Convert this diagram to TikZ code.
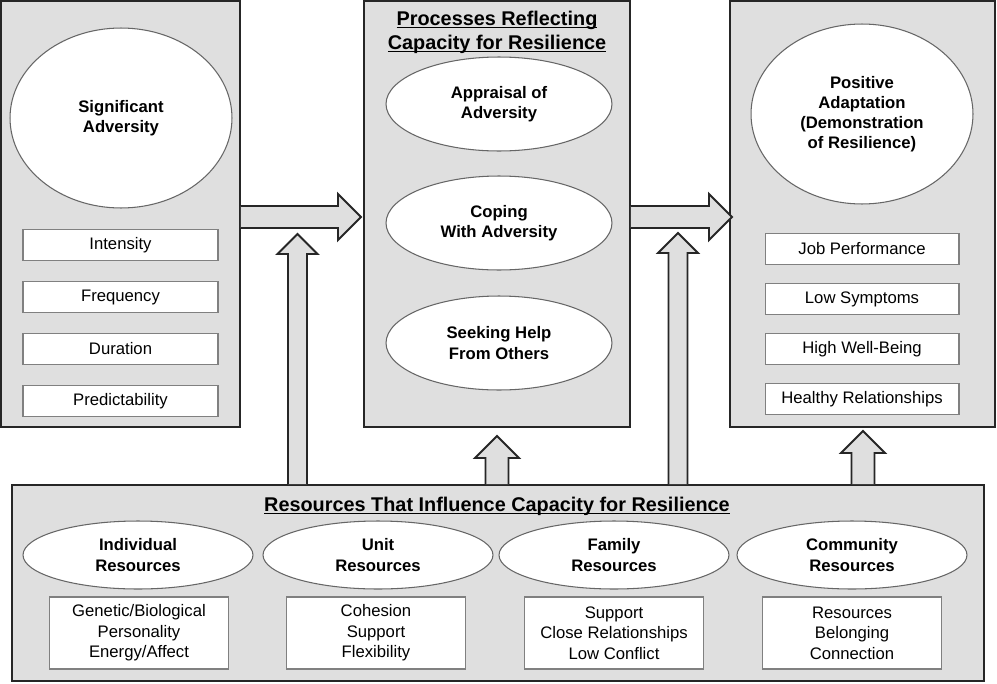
\documentclass[tikz,border=0pt]{standalone}
\usepackage{fontspec}
\setmainfont{Liberation Sans}
\usetikzlibrary{shapes.geometric,calc}

% underline close to the baseline
\newcommand\ulbase[1]{\underline{\smash{#1}}}
% block arrows
\newcommand\rightblock[2]{%
  \draw[fatarrow] ($(#1)+(0,-11)$) -- ($(#2)+(-23,-11)$) -- ($(#2)+(-23,-23)$) -- (#2)
    -- ($(#2)+(-23,23)$) -- ($(#2)+(-23,11)$) -- ($(#1)+(0,11)$);}
\newcommand\upblock[4]{%
  \draw[fatarrow] ($(#1)+(-#3,0)$) -- ($(#2)+(-#3,#4)$) -- ($(#2)+(-#4,#4)$) -- (#2)
    -- ($(#2)+(#4,#4)$) -- ($(#2)+(#3,#4)$) -- ($(#1)+(#3,0)$);}

\begin{document}
\begin{tikzpicture}[x=0.02cm,y=-0.02cm,
  panel/.style={draw=black!85,line width=1.1pt,fill=gray!25,inner sep=0pt},
  oval/.style={ellipse,draw=black!60,line width=0.6pt,fill=white,inner sep=0pt,
    align=center,font=\fontsize{9.5}{11.5}\selectfont\bfseries},
  item/.style={draw=black!50,line width=0.6pt,fill=white,inner sep=0pt,
    align=center,font=\fontsize{9.5}{11.6}\selectfont},
  heading/.style={anchor=base,inner sep=0pt,font=\fontsize{11.3}{13.6}\selectfont\bfseries},
  fatarrow/.style={draw=black!85,line width=1.1pt,fill=gray!25,line join=miter}]
\useasboundingbox (0,0) rectangle (997,683);

\node[panel,minimum width=4.78cm,minimum height=8.52cm] (adv) at (120.5,214) {};
\node[panel,minimum width=5.32cm,minimum height=8.52cm] (proc) at (497,214) {};
\node[panel,minimum width=5.30cm,minimum height=8.52cm] (adapt) at (862.5,214) {};
\node[panel,minimum width=19.44cm,minimum height=3.92cm] (res) at (498,583) {};

% left panel
\node[oval,minimum width=4.44cm,minimum height=3.6cm] (sig) at (121,118) {Significant\\Adversity};
\node[item,minimum width=3.9cm,minimum height=0.62cm] (int) at (120.5,245) {Intensity};
\node[item,minimum width=3.9cm,minimum height=0.62cm] (freq) at (120.5,297) {Frequency};
\node[item,minimum width=3.9cm,minimum height=0.62cm] (dur) at (120.5,349) {Duration};
\node[item,minimum width=3.9cm,minimum height=0.62cm] (pred) at (120.5,401) {Predictability};

% middle panel
\node[heading] (proctitle) at (497,25) {\ulbase{Processes Reflecting}};
\node[heading] (proctitle2) at (497,49) {\ulbase{Capacity for Resilience}};
\node[oval,minimum width=4.52cm,minimum height=1.88cm] (appr) at (499,104) {Appraisal of\\Adversity};
\node[oval,minimum width=4.52cm,minimum height=1.88cm] (cope) at (499,223) {Coping\\With Adversity};
\node[oval,minimum width=4.52cm,minimum height=1.88cm] (help) at (499,343) {Seeking Help\\From Others};

% right panel
\node[oval,minimum width=4.44cm,minimum height=3.6cm] (pos) at (862,114) {Positive\\Adaptation\\(Demonstration\\of Resilience)};
\node[item,minimum width=3.88cm,minimum height=0.62cm] (job) at (862,249) {Job Performance};
\node[item,minimum width=3.88cm,minimum height=0.62cm] (symp) at (862,299) {Low Symptoms};
\node[item,minimum width=3.88cm,minimum height=0.62cm] (well) at (862,349) {High Well-Being};
\node[item,minimum width=3.88cm,minimum height=0.62cm] (rel) at (862,399) {Healthy Relationships};

% bottom panel
\node[heading] (restitle) at (497,511) {\ulbase{Resources That Influence Capacity for Resilience}};
\node[oval,minimum width=4.6cm,minimum height=1.36cm] (indiv) at (138,555) {Individual\\Resources};
\node[oval,minimum width=4.6cm,minimum height=1.36cm] (unit) at (378,555) {Unit\\Resources};
\node[oval,minimum width=4.6cm,minimum height=1.36cm] (fam) at (614,555) {Family\\Resources};
\node[oval,minimum width=4.6cm,minimum height=1.36cm] (comm) at (852,555) {Community\\Resources};
\node[item,minimum width=3.58cm,minimum height=1.44cm] (indivlist) at (139,633) {Genetic/Biological\\Personality\\Energy/Affect};
\node[item,minimum width=3.58cm,minimum height=1.44cm] (unitlist) at (376,633) {Cohesion\\Support\\Flexibility};
\node[item,minimum width=3.58cm,minimum height=1.44cm] (famlist) at (614,633) {Support\\Close Relationships\\Low Conflict};
\node[item,minimum width=3.58cm,minimum height=1.44cm] (commlist) at (852,633) {Resources\\Belonging\\Connection};

% arrows
\coordinate (tipA) at (361,217);
\coordinate (tipB) at (732,217);
\coordinate (tipC) at (297.5,234);
\coordinate (tipD) at (678,233);
\coordinate (tipE) at (497,436);
\coordinate (tipF) at (863,431);
\rightblock{adv.east |- tipA}{tipA}
\rightblock{proc.east |- tipB}{tipB}
\upblock{tipC |- res.north}{tipC}{9.5}{20}
\upblock{tipD |- res.north}{tipD}{9.5}{20}
\upblock{tipE |- res.north}{tipE}{11.5}{22}
\upblock{tipF |- res.north}{tipF}{11.5}{22}
\end{tikzpicture}
\end{document}
